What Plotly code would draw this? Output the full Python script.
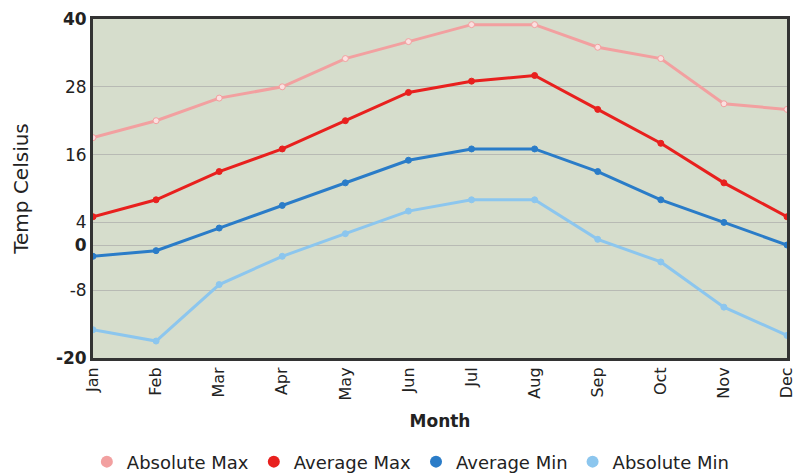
import plotly.graph_objects as go

months = ["Jan", "Feb", "Mar", "Apr", "May", "Jun", "Jul", "Aug", "Sep", "Oct", "Nov", "Dec"]
abs_max = [19, 22, 26, 28, 33, 36, 39, 39, 35, 33, 25, 24]
avg_max = [5, 8, 13, 17, 22, 27, 29, 30, 24, 18, 11, 5]
avg_min = [-2, -1, 3, 7, 11, 15, 17, 17, 13, 8, 4, 0]
abs_min = [-15, -17, -7, -2, 2, 6, 8, 8, 1, -3, -11, -16]
y_ticks = [-20, -8, 0, 4, 16, 28, 40]
y_tick_text = ["<b>-20</b>", "-8", "<b>0</b>", "4", "16", "28", "<b>40</b>"]

series = [
    ("Absolute Max", abs_max, "#f2a0a0", "#fbe0e0"),
    ("Average Max", avg_max, "#e8201e", "#e8201e"),
    ("Average Min", avg_min, "#2a7cc8", "#2a7cc8"),
    ("Absolute Min", abs_min, "#8cc6ee", "#8cc6ee"),
]

fig = go.Figure()
for name, vals, col, mcol in series:
    fig.add_trace(go.Scatter(
        x=months, y=vals, name=name, mode="lines+markers", showlegend=False,
        line=dict(color=col, width=3),
        marker=dict(symbol="circle", size=6, color=mcol, line=dict(color=col, width=1)),
    ))
for name, vals, col, mcol in series:
    fig.add_trace(go.Scatter(
        x=[None], y=[None], name=name, mode="markers", showlegend=True,
        marker=dict(symbol="circle", size=13, color=col),
    ))

fig.update_layout(
    width=798, height=474,
    margin=dict(l=93, r=11, t=19, b=116, autoexpand=False),
    paper_bgcolor="white",
    plot_bgcolor="#d6ddcc",
    font=dict(family="DejaVu Sans", color="#222222", size=14),
    showlegend=True,
    legend=dict(orientation="h", x=0.458, xanchor="center", y=-0.252, yanchor="top",
                font=dict(size=18, family="DejaVu Sans"), itemsizing="constant",
                itemwidth=30, traceorder="normal", tracegroupgap=0),
    xaxis=dict(
        type="category", tickangle=-90, range=[0, 11], automargin=False,
        showline=True, linecolor="#333333", linewidth=3, mirror=True,
        showgrid=False, ticks="", tickfont=dict(size=16),
        title=dict(text="<b>Month</b>", font=dict(size=17), standoff=16),
    ),
    yaxis=dict(
        range=[-20, 40], tickvals=y_ticks, ticktext=y_tick_text, automargin=False,
        showline=True, linecolor="#333333", linewidth=3, mirror=True,
        showgrid=True, gridcolor="#b8bab4", gridwidth=1, zeroline=False,
        ticks="", tickfont=dict(size=17),
        title=dict(text="Temp Celsius", font=dict(size=20), standoff=22),
    ),
)

fig.write_html("out.html", post_script="document.body.style.margin='0';",
               config={"displayModeBar": False})
